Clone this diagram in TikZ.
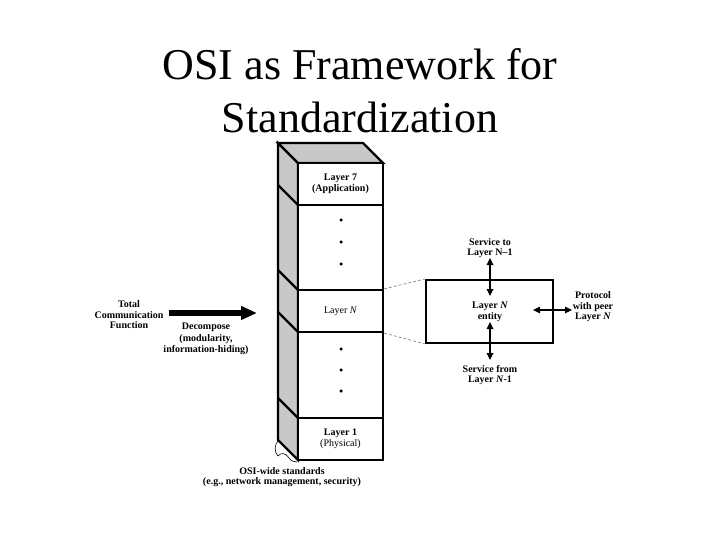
\documentclass[tikz,border=0pt]{standalone}
\usepackage{fontspec}
\setmainfont{Liberation Serif}
\usetikzlibrary{arrows.meta}
\definecolor{sidegray}{RGB}{200,200,200}
\definecolor{dashgray}{RGB}{120,120,120}
\begin{document}
\begin{tikzpicture}[x=1pt,y=-1pt,
  titlefont/.style={font=\fontsize{44}{53}\selectfont},
  lbl/.style={font=\fontsize{10}{10.5}\selectfont\bfseries, align=center, inner sep=0pt},
  layerbox/.style={draw, line width=2.2pt, fill=white, minimum width=85pt, inner sep=0pt, align=center},
  face/.style={draw, line width=2.2pt, fill=sidegray, line join=miter},
  divider/.style={line width=2.2pt},
  dotmark/.style={circle, fill=black, inner sep=0pt, minimum size=3.5pt},
  entitybox/.style={draw, line width=2pt, minimum width=127pt, minimum height=63pt, inner sep=0pt},
  bigarrow/.style={line width=5.5pt, -{Triangle[length=16pt,width=13pt]}},
  dbl/.style={line width=1.6pt, {Triangle[length=7pt,width=6.5pt]}-{Triangle[length=7pt,width=6.5pt]}},
  dashline/.style={dashgray, dashed, line width=0.6pt, dash pattern=on 3pt off 2pt}
]
\useasboundingbox (0,0) rectangle (720,540);

% title
\node[titlefont, anchor=base] (title1) at (360,80) {OSI as Framework for};
\node[titlefont, anchor=base] (title2) at (360,133) {Standardization};

% side and top faces
\path[face] (278,143) -- (298,163) -- (298,460) -- (278,440) -- cycle;
\path[face] (278,143) -- (363,143) -- (383,163) -- (298,163) -- cycle;
\foreach \yy in {205,290,332,418} {
  \draw[divider] (278,\yy-20) -- (298,\yy);
}

% front layers
\node[layerbox, minimum height=42pt] (L7) at (340.5,184) {\fontsize{10}{10.5}\selectfont\bfseries Layer 7\\[-1pt]\fontsize{10}{10.5}\selectfont\bfseries (Application)};
\node[layerbox, minimum height=85pt] (D1) at (340.5,247.5) {};
\node[layerbox, minimum height=42pt] (LN) at (340.5,311) {\fontsize{10}{10.5}\selectfont Layer \textit{N}};
\node[layerbox, minimum height=86pt] (D2) at (340.5,375) {};
\node[layerbox, minimum height=42pt] (L1) at (340.5,439) {\fontsize{10}{10.5}\selectfont\bfseries Layer 1\\[-1pt]\fontsize{10}{10.5}\selectfont (Physical)};

\node[dotmark] (d11) at (341,220) {};
\node[dotmark] (d12) at (341,242) {};
\node[dotmark] (d13) at (341,264) {};
\node[dotmark] (d21) at (341,349) {};
\node[dotmark] (d22) at (341,370) {};
\node[dotmark] (d23) at (341,391) {};

% brace at bottom left
\draw[line width=0.6pt] (279,440) .. controls (274,444) and (274,452) .. (278,456)
  .. controls (281,452) and (286,453) .. (289,458) .. controls (291,461) and (294,462) .. (297,462);

% left arrow and labels
\node[lbl] (tcf) at (129,315) {Total\\Communication\\Function};
\node[lbl, font=\fontsize{10}{11.5}\selectfont\bfseries] (dec) at (206,339) {Decompose\\(modularity,\\information-hiding)};
\coordinate (bigA) at (169,313);
\coordinate (bigB) at (257,313);
\draw[bigarrow] (bigA) -- (bigB);

% bottom label
\node[lbl] (osiw) at (282,477) {OSI-wide standards\\(e.g., network management, security)};

% entity box
\node[entitybox] (ent) at (489.5,311.5) {};
\node[lbl] (entl) at (490,312) {Layer \textit{N}\\entity};

% dashed connectors
\draw[dashline] (LN.north east) -- (ent.north west);
\draw[dashline] (LN.south east) -- (ent.south west);

% service labels and arrows
\node[lbl] (svto) at (490,248) {Service to\\Layer N--1};
\node[lbl] (svfr) at (490,375) {Service from\\Layer \textit{N}-1};
\node[lbl] (prot) at (593,307) {Protocol\\with peer\\Layer \textit{N}};
\coordinate (upA) at (490,258);
\coordinate (upB) at (490,296);
\coordinate (dnA) at (490,322);
\coordinate (dnB) at (490,360);
\coordinate (hA) at (533,310);
\coordinate (hB) at (572,310);
\draw[dbl] (upA) -- (upB);
\draw[dbl] (dnA) -- (dnB);
\draw[dbl] (hA) -- (hB);
\end{tikzpicture}
\end{document}
